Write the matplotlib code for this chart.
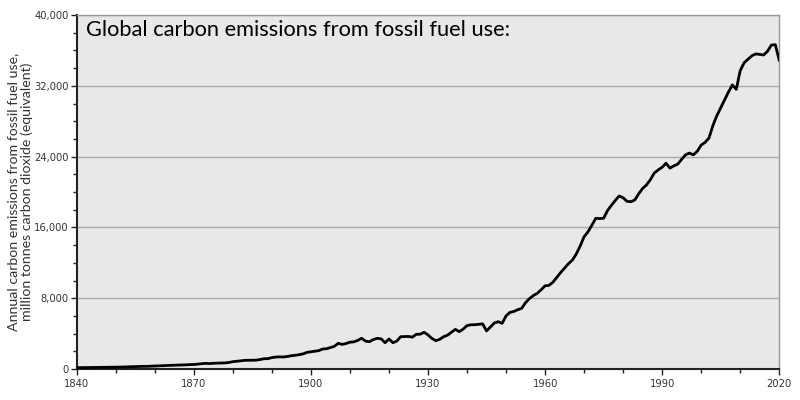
import matplotlib
matplotlib.use("Agg")
import matplotlib.pyplot as plt
from matplotlib.ticker import MultipleLocator, FuncFormatter

# annual emissions, million tonnes CO2
years = list(range(1840, 2021))
emissions = [
    150, 155, 160, 165, 175, 180, 185, 190, 195, 195,
    200, 215, 225, 240, 265, 270, 290, 295, 300, 320,
    340, 360, 370, 390, 410, 430, 440, 460, 470, 500,
    510, 550, 600, 640, 610, 650, 660, 680, 690, 740,
    830, 870, 920, 980, 980, 990, 1000, 1070, 1160, 1170,
    1290, 1350, 1370, 1360, 1420, 1500, 1550, 1620, 1710, 1880,
    1950, 2010, 2070, 2260, 2290, 2430, 2560, 2900, 2780, 2880,
    3030, 3070, 3230, 3470, 3150, 3080, 3330, 3470, 3400, 2970,
    3390, 2970, 3150, 3650, 3660, 3680, 3600, 3920, 3930, 4150,
    3850, 3450, 3200, 3350, 3650, 3820, 4150, 4480, 4220, 4500,
    4900, 5000, 5000, 5050, 5100, 4300, 4750, 5200, 5350, 5160,
    6000, 6400, 6500, 6700, 6850, 7500, 7950, 8300, 8550, 8950,
    9400, 9450, 9800, 10350, 10900, 11400, 11900, 12300, 13000, 13900,
    14950, 15500, 16250, 17030, 17000, 17030, 17900, 18500, 19050, 19550,
    19350, 18950, 18900, 19100, 19800, 20400, 20800, 21400, 22150, 22500,
    22800, 23250, 22700, 22950, 23150, 23700, 24200, 24400, 24200, 24600,
    25300, 25600, 26100, 27500, 28600, 29500, 30400, 31300, 32100, 31600,
    33700, 34600, 35000, 35400, 35600, 35550, 35480, 35900, 36600, 36650,
    34900,
]
xticks = list(range(1840, 2021, 30))

title = "Global carbon emissions from fossil fuel use:"
ylabel = "Annual carbon emissions from fossil fuel use,\nmillion tonnes carbon dioxide (equivalent)"

fig = plt.figure(figsize=(8, 4), dpi=100)
ax = fig.add_axes([0.096, 0.0775, 0.878, 0.885])
ax.set_facecolor("#e8e8e8")

ax.plot(years, emissions, color="black", lw=2, zorder=3)

ax.set_xlim(1840, 2020)
ax.set_ylim(0, 40000)
ax.set_xticks(xticks)
ax.xaxis.set_minor_locator(MultipleLocator(10))
ax.yaxis.set_major_locator(MultipleLocator(8000))
ax.yaxis.set_minor_locator(MultipleLocator(2000))
ax.yaxis.set_major_formatter(FuncFormatter(lambda v, p: f"{int(v):,}"))
ax.grid(axis="y", which="major", color="#aaaaaa", lw=1, zorder=1)

ax.tick_params(which="major", length=4, width=1, labelsize=7.2, labelcolor="#333333", color="#222222")
ax.tick_params(which="minor", length=3, width=1, color="#222222")
ax.tick_params(axis="y", pad=2)
ax.tick_params(axis="x", pad=3)

for s in ["left", "bottom"]:
    ax.spines[s].set_color("#222222")
    ax.spines[s].set_linewidth(1.5)
for s in ["top", "right"]:
    ax.spines[s].set_color("#999999")
    ax.spines[s].set_linewidth(1)

ax.set_ylabel(ylabel, fontsize=10.2, family="Lato", color="#333333", linespacing=1.1)
ax.yaxis.set_label_coords(-0.062, 0.5)
ax.text(0.013, 0.985, title, transform=ax.transAxes, fontsize=15.75, family="Lato",
        color="black", va="top", ha="left")

fig.savefig("out.png", dpi=100)
